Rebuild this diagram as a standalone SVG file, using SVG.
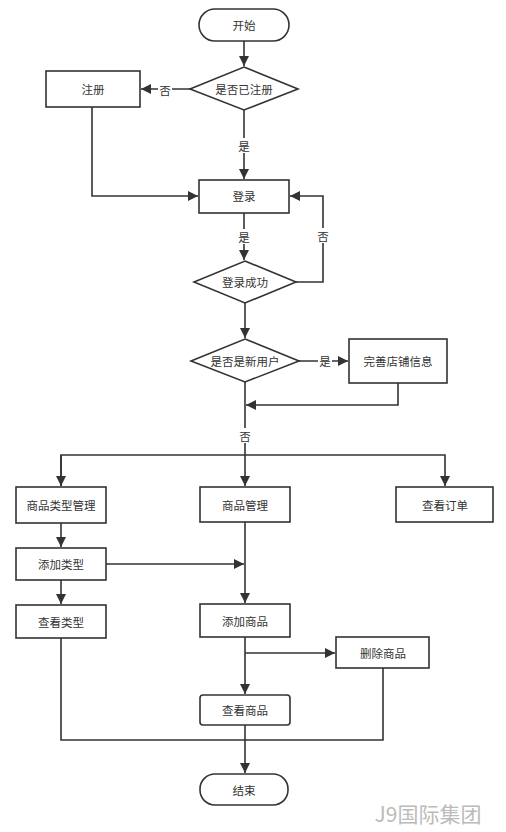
<svg xmlns="http://www.w3.org/2000/svg" width="506" height="832" viewBox="0 0 506 832">
<style>
.n{fill:#fff;stroke:#333;stroke-width:1.6}
.t{font-family:"Noto Sans CJK SC","Liberation Sans",sans-serif;font-size:11.5px;fill:#333;text-anchor:middle;dominant-baseline:central}
.c{fill:none;stroke:#333;stroke-width:1.6}
.l{font-family:"Noto Sans CJK SC","Liberation Sans",sans-serif;font-size:11.5px;fill:#333;text-anchor:middle;dominant-baseline:central}
</style>
<defs>
<marker id="a" viewBox="0 0 10 10" refX="10" refY="5" markerWidth="10" markerHeight="10" markerUnits="userSpaceOnUse" orient="auto">
<path d="M0,0 L10,5 L0,10 z" fill="#333"/>
</marker>
</defs>
<rect width="506" height="832" fill="#fff"/>
<g id="connectors">
<path class="c" d="M244,41 V66" marker-end="url(#a)"/>
<path class="c" d="M190,89 H141" marker-end="url(#a)"/>
<path class="c" d="M244,110 V179" marker-end="url(#a)"/>
<path class="c" d="M92,107 V196 H198" marker-end="url(#a)"/>
<path class="c" d="M244,213 V260" marker-end="url(#a)"/>
<path class="c" d="M296,282 H323 V196 H290" marker-end="url(#a)"/>
<path class="c" d="M245,303 V338" marker-end="url(#a)"/>
<path class="c" d="M299,361 H348" marker-end="url(#a)"/>
<path class="c" d="M398,383 V405 H246" marker-end="url(#a)"/>
<path class="c" d="M245,382 V455"/>
<path class="c" d="M61,486 V455 H445 V486" marker-end="url(#a)"/>
<path class="c" d="M61,455 V486" marker-end="url(#a)"/>
<path class="c" d="M245,455 V486" marker-end="url(#a)"/>
<path class="c" d="M61,523 V547" marker-end="url(#a)"/>
<path class="c" d="M61,580 V604" marker-end="url(#a)"/>
<path class="c" d="M106,564 H244" marker-end="url(#a)"/>
<path class="c" d="M245,522 V603" marker-end="url(#a)"/>
<path class="c" d="M245,637 V694" marker-end="url(#a)"/>
<path class="c" d="M245,653 H335" marker-end="url(#a)"/>
<path class="c" d="M61,638 V740 H383 V668"/>
<path class="c" d="M245,725 V773" marker-end="url(#a)"/>
<rect x="158" y="82" width="14" height="15" fill="#fff"/>
<text class="l" x="165" y="90">否</text>
<rect x="237" y="138" width="14" height="15" fill="#fff"/>
<text class="l" x="244" y="146">是</text>
<rect x="237" y="229" width="14" height="15" fill="#fff"/>
<text class="l" x="244" y="237">是</text>
<rect x="316" y="228" width="14" height="15" fill="#fff"/>
<text class="l" x="323" y="236">否</text>
<rect x="318" y="353" width="14" height="15" fill="#fff"/>
<text class="l" x="325" y="361">是</text>
<rect x="238" y="428" width="14" height="15" fill="#fff"/>
<text class="l" x="245" y="436">否</text>
</g>
<g id="start"><rect class="n" x="199" y="9" width="90" height="32" rx="16"/><text class="t" x="244" y="25">开始</text></g>
<g id="isRegistered"><polygon class="n" points="244,67 298,89 244,110 190,89"/><text class="t" x="244" y="89">是否已注册</text></g>
<g id="register"><rect class="n" x="46" y="71" width="94" height="36"/><text class="t" x="93" y="89">注册</text></g>
<g id="login"><rect class="n" x="199" y="180" width="90" height="33"/><text class="t" x="244" y="196">登录</text></g>
<g id="loginOk"><polygon class="n" points="245,261 296,282 245,303 194,282"/><text class="t" x="245" y="282">登录成功</text></g>
<g id="isNew"><polygon class="n" points="245,339 299,361 245,382 191,361"/><text class="t" x="245" y="361">是否是新用户</text></g>
<g id="shopInfo"><rect class="n" x="349" y="339" width="98" height="44"/><text class="t" x="398" y="361">完善店铺信息</text></g>
<g id="typeMgmt"><rect class="n" x="16" y="487" width="90" height="36"/><text class="t" x="61" y="505">商品类型管理</text></g>
<g id="goodsMgmt"><rect class="n" x="200" y="487" width="90" height="35"/><text class="t" x="245" y="505">商品管理</text></g>
<g id="viewOrder"><rect class="n" x="396" y="487" width="97" height="35"/><text class="t" x="445" y="505">查看订单</text></g>
<g id="addType"><rect class="n" x="16" y="548" width="90" height="32"/><text class="t" x="61" y="564">添加类型</text></g>
<g id="viewType"><rect class="n" x="16" y="605" width="90" height="33"/><text class="t" x="61" y="622">查看类型</text></g>
<g id="addGoods"><rect class="n" x="200" y="604" width="90" height="33"/><text class="t" x="245" y="621">添加商品</text></g>
<g id="delGoods"><rect class="n" x="336" y="637" width="93" height="31"/><text class="t" x="383" y="653">删除商品</text></g>
<g id="viewGoods"><rect class="n" x="200" y="695" width="90" height="30" rx="3"/><text class="t" x="245" y="710">查看商品</text></g>
<g id="end"><rect class="n" x="200" y="774" width="88" height="31" rx="15"/><text class="t" x="244" y="790">结束</text></g>
<text x="428" y="813" style="font-family:'Noto Sans CJK SC','Liberation Sans',sans-serif;font-size:21px;fill:#bbb;text-anchor:middle;dominant-baseline:central">J9国际集团</text>
</svg>
